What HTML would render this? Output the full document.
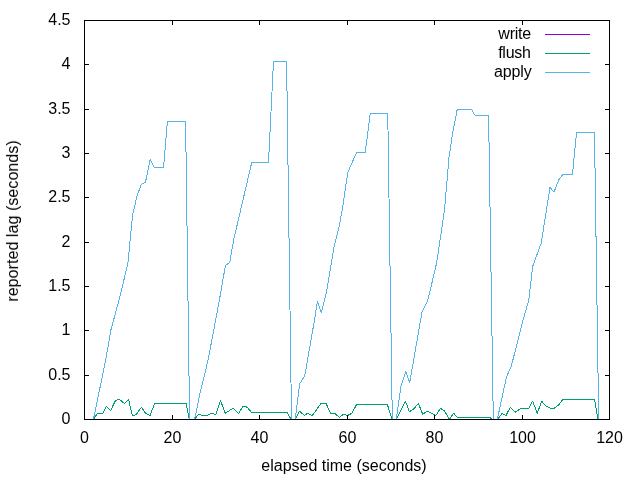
<!DOCTYPE html>
<html><head><meta charset="utf-8"><title>plot</title>
<style>
html,body{margin:0;padding:0;background:#fff;}
body{width:640px;height:480px;overflow:hidden;}
svg{display:block;}
text{font-family:"Liberation Sans",sans-serif;font-size:16px;fill:#000;}
</style></head><body>
<svg width="640" height="480" viewBox="0 0 640 480">
<rect width="640" height="480" fill="#fff"/>
<g fill="none" stroke-width="1" stroke-linejoin="round" shape-rendering="crispEdges">
<polyline stroke="#009E73" points="84.50,419.50 93.60,419.50 97.20,413.40 102.70,413.40 106.40,406.10 110.55,410.65 115.30,400.90 119.10,399.15 124.50,403.50 128.55,399.45 132.50,416.00 136.45,414.15 141.55,407.20 145.40,413.20 150.20,415.45 154.55,403.30 186.20,403.30 189.30,419.50 194.45,419.50 198.50,414.35 202.70,415.45 206.85,415.45 211.20,413.40 216.00,414.35 220.45,400.30 225.25,413.20 233.15,408.20 238.70,413.45 243.00,406.10 247.20,407.20 251.45,412.35 286.90,412.35 291.20,419.50 295.20,419.50 299.50,411.20 304.60,415.50 307.70,413.25 312.40,415.50 321.00,403.50 326.10,403.50 330.40,413.25 334.70,413.25 339.30,417.40 343.30,414.30 347.60,415.50 351.90,413.25 356.50,404.70 387.45,404.70 392.00,419.50 396.40,419.50 405.50,401.20 409.40,411.70 414.10,408.60 418.40,403.50 422.70,414.30 427.30,411.20 431.30,413.25 435.90,415.50 440.40,408.30 444.50,410.70 449.30,419.50 453.60,413.25 457.60,417.40 489.80,417.40 492.60,419.50 497.75,419.50 502.00,413.25 506.00,415.50 510.30,407.20 515.30,412.20 521.00,408.30 528.70,408.30 532.60,401.20 537.30,413.25 541.60,401.20 545.50,405.50 550.20,408.30 554.10,408.30 558.80,404.70 563.10,399.20 594.50,399.20 598.00,419.50"/>
<polyline stroke="#56B4E9" points="84.50,419.50 93.40,419.50 105.70,360.00 110.90,330.00 119.00,300.00 127.80,264.00 132.60,215.00 136.90,196.50 141.10,184.50 145.50,182.00 150.10,159.50 154.30,167.25 163.60,167.25 167.40,121.25 185.60,121.25 189.60,419.50 194.60,419.50 199.60,395.00 208.10,360.00 219.40,300.00 225.40,265.60 229.75,262.50 233.75,239.50 251.60,163.00 252.20,162.50 268.50,162.50 273.50,61.25 286.60,61.25 291.50,419.50 295.25,419.50 299.60,384.00 304.80,375.60 314.50,320.00 317.40,301.70 321.40,312.80 326.30,293.00 334.00,247.50 339.50,225.00 343.00,205.00 347.75,172.50 356.50,152.50 365.25,152.50 370.25,113.25 387.75,113.25 392.30,419.50 396.20,419.50 401.00,386.25 405.75,371.75 409.75,382.50 421.90,312.50 423.40,308.80 427.75,300.50 436.50,263.50 442.00,227.50 444.50,210.00 449.00,157.50 452.75,132.50 457.25,109.25 471.50,109.25 474.75,115.00 488.60,115.00 493.30,419.50 497.30,419.50 506.50,376.80 511.20,366.60 523.75,317.50 528.75,300.00 532.75,266.25 541.25,243.00 550.00,187.50 554.00,192.00 558.75,180.00 563.00,174.25 572.50,174.25 576.50,132.50 594.50,132.50 598.70,419.50"/>
<path stroke="#9400D3" d="M545,34.5H590"/>
<path stroke="#009E73" d="M545,53.5H590"/>
<path stroke="#56B4E9" d="M545,72.5H590"/>
</g>
<g fill="none" stroke="#000" stroke-width="1" shape-rendering="crispEdges">
<path d="M84.5,419.5h4 M609.5,419.5h-4.6 M84.5,375.5h4 M609.5,375.5h-4.6 M84.5,330.5h4 M609.5,330.5h-4.6 M84.5,286.5h4 M609.5,286.5h-4.6 M84.5,242.5h4 M609.5,242.5h-4.6 M84.5,197.5h4 M609.5,197.5h-4.6 M84.5,153.5h4 M609.5,153.5h-4.6 M84.5,109.5h4 M609.5,109.5h-4.6 M84.5,64.5h4 M609.5,64.5h-4.6 M84.5,20.5h4 M609.5,20.5h-4.6 M84.5,419.5v-4.6 M84.5,20.5v4 M172.5,419.5v-4.6 M172.5,20.5v4 M259.5,419.5v-4.6 M259.5,20.5v4 M347.5,419.5v-4.6 M347.5,20.5v4 M434.5,419.5v-4.6 M434.5,20.5v4 M522.5,419.5v-4.6 M522.5,20.5v4 M609.5,419.5v-4.6 M609.5,20.5v4"/>
<rect x="84.5" y="20.5" width="525.0" height="399.0"/>
</g>
<g opacity="0.999">
<text x="70.5" y="423.8" text-anchor="end">0</text>
<text x="70.5" y="379.8" text-anchor="end">0.5</text>
<text x="70.5" y="334.8" text-anchor="end">1</text>
<text x="70.5" y="290.8" text-anchor="end">1.5</text>
<text x="70.5" y="246.8" text-anchor="end">2</text>
<text x="70.5" y="201.8" text-anchor="end">2.5</text>
<text x="70.5" y="157.8" text-anchor="end">3</text>
<text x="70.5" y="113.8" text-anchor="end">3.5</text>
<text x="70.5" y="68.8" text-anchor="end">4</text>
<text x="70.5" y="24.8" text-anchor="end">4.5</text>
<text x="84.5" y="443" text-anchor="middle">0</text>
<text x="172.5" y="443" text-anchor="middle">20</text>
<text x="259.5" y="443" text-anchor="middle">40</text>
<text x="347.5" y="443" text-anchor="middle">60</text>
<text x="434.5" y="443" text-anchor="middle">80</text>
<text x="522.5" y="443" text-anchor="middle">100</text>
<text x="609.5" y="443" text-anchor="middle">120</text>
<text x="530.9" y="38.6" text-anchor="end" letter-spacing="-0.25">write</text>
<text x="530.7" y="57.6" text-anchor="end" letter-spacing="-0.25">flush</text>
<text x="531.6" y="76.6" text-anchor="end" letter-spacing="-0.15">apply</text>
<text x="344" y="471" text-anchor="middle">elapsed time (seconds)</text>
<text transform="translate(18,220.9) rotate(-90)" text-anchor="middle" letter-spacing="0.065">reported lag (seconds)</text>
</g>
</svg>
</body></html>
